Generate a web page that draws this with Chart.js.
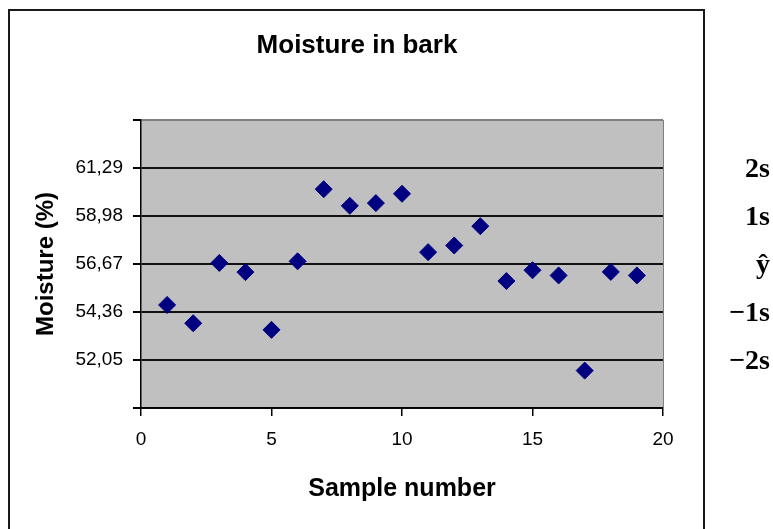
<!DOCTYPE html>
<html>
<head>
<meta charset="utf-8">
<script src="https://cdn.jsdelivr.net/npm/chart.js@4.4.0/dist/chart.umd.min.js"></script>
<style>
  body { margin: 0; background: #fff; }
  #wrap { position: relative; width: 773px; height: 529px; }
</style>
</head>
<body>
<div id="wrap"><canvas id="barkChart"></canvas></div>
<script>
// data
const sampleNumbers = [1, 2, 3, 4, 5, 6, 7, 8, 9, 10, 11, 12, 13, 14, 15, 16, 17, 18, 19];
const moisture = [54.70, 53.82, 56.72, 56.28, 53.50, 56.80, 60.27, 59.47, 59.60, 60.05,
                  57.24, 57.56, 58.49, 55.85, 56.37, 56.12, 51.54, 56.29, 56.12];

const yTickValues = [49.74, 52.05, 54.36, 56.67, 58.98, 61.29, 63.60];
const xTickStep = 5;
const sideValues = [52.05, 54.36, 56.67, 58.98, 61.29];
const sideLabels = ['\u22122s', '\u22121s', '\u0177', '1s', '2s'];

// pick a narrow sans if there is one, otherwise plain
const hasFont = (name) => {
  const c = document.createElement('canvas').getContext('2d');
  c.font = '40px monospace';
  const a = c.measureText('Moisture in bark').width;
  c.font = '40px "' + name + '", monospace';
  return c.measureText('Moisture in bark').width !== a;
};
const narrow = hasFont('Liberation Sans Narrow');
const titleFamily = narrow ? '"Liberation Sans Narrow", sans-serif' : '"Liberation Sans", sans-serif';
const titleSize = narrow ? 30 : 26;
const xTitleSize = narrow ? 29 : 25;

Chart.defaults.font.family = '"Liberation Sans", Arial, sans-serif';
Chart.defaults.color = '#000';

const frame = {
  id: 'frame',
  beforeDraw(chart) {
    const { ctx, chartArea: a } = chart;
    ctx.save();
    ctx.fillStyle = '#c0c0c0';
    ctx.fillRect(a.left, a.top, a.right - a.left, a.bottom - a.top);
    ctx.strokeStyle = '#1a1a1a';
    ctx.lineWidth = 2;
    ctx.beginPath();
    ctx.moveTo(9, 540);
    ctx.lineTo(9, 10);
    ctx.lineTo(704, 10);
    ctx.lineTo(704, 540);
    ctx.stroke();
    ctx.restore();
  },
  afterDraw(chart) {
    // the 2s / 1s / mean markers, placed through the y scale
    const { ctx } = chart;
    const y = chart.scales.y;
    ctx.save();
    ctx.font = 'bold 28px "Liberation Serif", "Times New Roman", serif';
    ctx.fillStyle = '#000';
    ctx.textAlign = 'right';
    ctx.textBaseline = 'middle';
    sideValues.forEach((v, i) => {
      ctx.fillText(sideLabels[i], 770, y.getPixelForValue(v) + 2);
    });
    ctx.restore();
  }
};

new Chart(document.getElementById('barkChart'), {
  type: 'scatter',
  data: {
    datasets: [{
      label: 'Moisture',
      data: sampleNumbers.map((n, i) => ({ x: n, y: moisture[i] })),
      pointStyle: 'rectRot',
      pointRadius: 8.5,
      pointHoverRadius: 8.5,
      backgroundColor: '#000080',
      borderColor: '#000080',
      borderWidth: 1
    }]
  },
  options: {
    responsive: true,
    maintainAspectRatio: false,
    animation: false,
    layout: { padding: { left: 9, right: 68, top: 0, bottom: 0 } },
    plugins: {
      legend: { display: false },
      tooltip: { enabled: false },
      title: {
        display: true,
        text: 'Moisture in bark',
        color: '#000',
        font: { family: titleFamily, size: titleSize, weight: 'bold' },
        padding: { top: 30, bottom: 120 - 30 - titleSize * 1.2 }
      }
    },
    scales: {
      x: {
        type: 'linear',
        min: 0,
        max: 20,
        afterFit: (s) => { s.height = 121; },
        ticks: { stepSize: xTickStep, padding: 12, color: '#000', font: { size: 19 } },
        grid: { drawOnChartArea: false, drawTicks: true, tickLength: 8, tickColor: '#000', lineWidth: 1.5 },
        border: { display: true, color: '#000', width: 1.5 },
        title: {
          display: true,
          text: 'Sample number',
          color: '#000',
          font: { family: titleFamily, size: xTitleSize, weight: 'bold' },
          padding: { top: 0, bottom: 25 }
        }
      },
      y: {
        type: 'linear',
        min: yTickValues[0],
        max: yTickValues[yTickValues.length - 1],
        afterFit: (s) => { s.width = 132; },
        afterBuildTicks: (s) => { s.ticks = yTickValues.map(v => ({ value: v })); },
        ticks: {
          autoSkip: false,
          padding: 10,
          color: '#000',
          font: { size: 19 },
          callback: (v, i) => (i === 0 || i === yTickValues.length - 1) ? '' : Number(v).toFixed(2).replace('.', ',')
        },
        grid: {
          color: (c) => c.index === yTickValues.length - 1 ? '#808080' : '#111',
          lineWidth: 2,
          tickLength: 8,
          tickColor: '#000'
        },
        border: { display: true, color: '#000', width: 1.5 },
        title: {
          display: true,
          text: 'Moisture (%)',
          color: '#000',
          font: { size: 24, weight: 'bold' },
          padding: { top: 23, bottom: 0 }
        }
      },
      y2: {
        type: 'linear',
        position: 'right',
        min: yTickValues[0],
        max: yTickValues[yTickValues.length - 1],
        afterFit: (s) => { s.width = 42; },
        ticks: { display: false },
        grid: { display: false },
        border: { display: true, color: '#808080', width: 1 }
      }
    }
  },
  plugins: [frame]
});
</script>
</body>
</html>
